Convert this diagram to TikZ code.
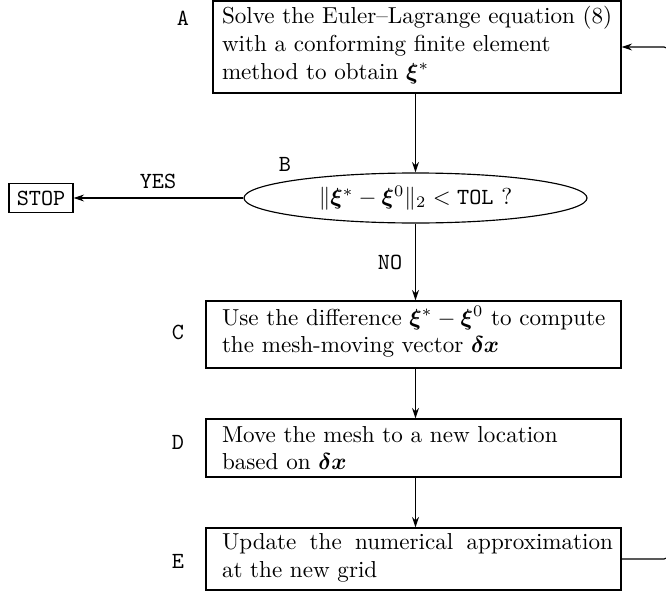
\documentclass[tikz,border=0pt]{standalone}
\usepackage{amsmath}
\usepackage{bm}
\usetikzlibrary{shapes.geometric,arrows.meta}
\newlength\px
\setlength\px{0.433pt}
\tikzset{
  box/.style={draw, line width=0.5pt, rectangle, inner sep=0pt},
  txt/.style={inner sep=0pt, text width=391*\px, align=justify, font=\normalsize},
  lab/.style={inner sep=0pt, font=\ttfamily},
  arr/.style={line width=0.5pt, -{Stealth[length=4.5pt,width=3pt]}},
  ln/.style={line width=0.5pt}
}
\begin{document}
\begin{tikzpicture}[x=0.433pt, y=-0.433pt]
\useasboundingbox (0,0) rectangle (666,594);
% boxes
\node[box, minimum width=408*\px, minimum height=92*\px] (A) at (417,47) {};
\node[txt] (At) at (417.5,45) {Solve the Euler--Lagrange equation (8)\\ with a conforming finite element\\ method to obtain $\bm{\xi}^{*}$};
\node[box, ellipse, minimum width=343*\px, minimum height=50*\px] (B) at (415.5,198) {$\|\bm{\xi}^{*}-\bm{\xi}^{0}\|_2<\texttt{TOL}$ ?};
\node[box, minimum width=64*\px, minimum height=29*\px, font=\ttfamily] (S) at (41,198) {STOP};
\node[box, minimum width=415*\px, minimum height=67*\px] (C) at (413.5,334.5) {};
\node[txt] (Ct) at (417.5,332) {Use the difference $\bm{\xi}^{*}-\bm{\xi}^{0}$ to compute\\ the mesh-moving vector $\bm{\delta x}$};
\node[box, minimum width=415*\px, minimum height=58*\px] (D) at (413.5,448) {};
\node[txt] (Dt) at (417.5,448) {Move the mesh to a new location\\ based on $\bm{\delta x}$};
\node[box, minimum width=415*\px, minimum height=62*\px] (E) at (413.5,559) {};
\node[txt] (Et) at (417.5,558) {Update the numerical approximation\linebreak at the new grid};
% labels
\node[lab] (LA) at (183,18) {A};
\node[lab] (LB) at (285,164) {B};
\node[lab] (LC) at (178,332) {C};
\node[lab] (LD) at (178,442) {D};
\node[lab] (LE) at (178,561) {E};
\node[lab] (LY) at (158,181) {YES};
\node[lab] (LN) at (390,262) {NO};
% connectors
\coordinate (R1) at (668,559);
\coordinate (R2) at (668,47);
\draw[arr] (A.south -| B.north) -- (B.north);
\draw[arr] (B.west) -- (S.east);
\draw[arr] (B.south) -- (B.south |- C.north);
\draw[arr] (C.south -| B.south) -- (D.north -| B.south);
\draw[arr] (D.south -| B.south) -- (E.north -| B.south);
\draw[arr, rounded corners=4*\px] (E.east) -- (R1) -- (R2) -- (A.east);
\end{tikzpicture}
\end{document}
